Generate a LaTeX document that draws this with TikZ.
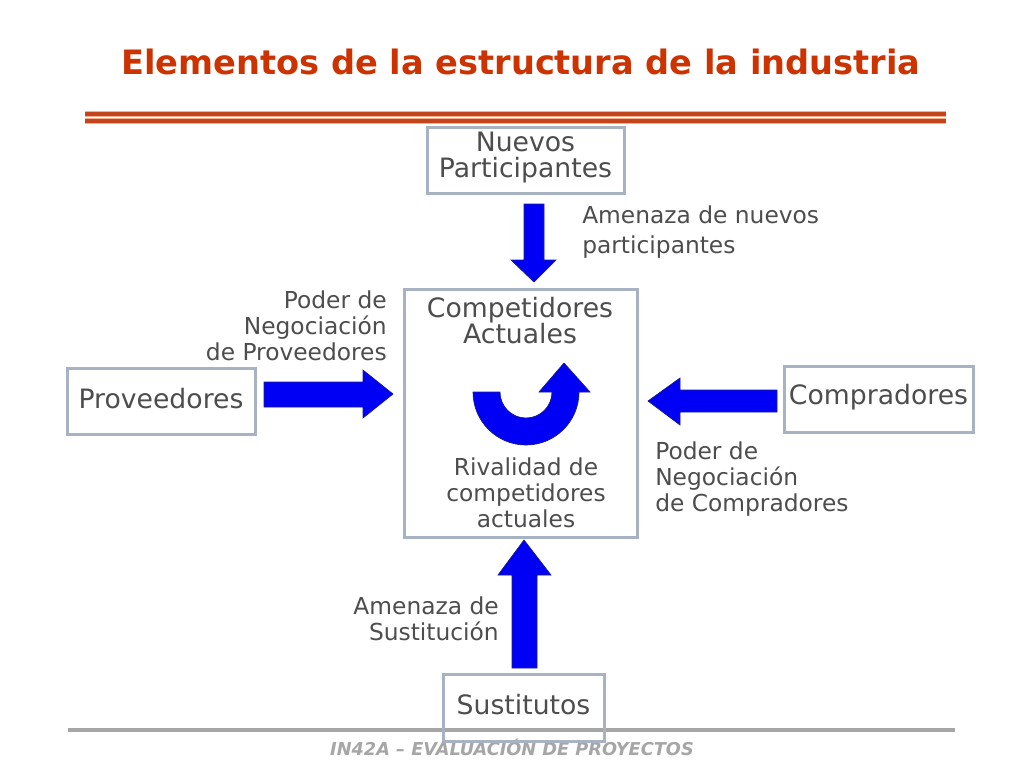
\documentclass[tikz,border=0pt]{standalone}
\usepackage{fontspec}
\setmainfont{DejaVu Sans}
\definecolor{titlered}{HTML}{CC3300}
\definecolor{rulered}{HTML}{C4441C}
\definecolor{ruleglow}{HTML}{F4B090}
\definecolor{boxgray}{HTML}{A7B3C2}
\definecolor{txtgray}{HTML}{4D4D4D}
\definecolor{footgray}{HTML}{A6A6A6}
\definecolor{arrblue}{HTML}{0000F5}
\definecolor{arredge}{HTML}{1A1A8C}
\begin{document}
\begin{tikzpicture}[x=0.75pt,y=-0.75pt,
  box/.style={draw=boxgray, line width=2.25pt, rectangle, inner sep=0pt},
  lbl/.style={text=txtgray, font=\fontsize{17.5}{19.5}\selectfont, inner sep=0pt},
  boxlbl/.style={lbl, font=\fontsize{20}{19.5}\selectfont},
  blockarrow/.style={fill=arrblue, draw=arredge, line width=0.5pt, line join=miter}]
\useasboundingbox (0,0) rectangle (1024,768);
\fill[white] (0,0) rectangle (1024,768);

% title
\node[text=titlered, font=\fontsize{25.2}{30}\selectfont\bfseries] (title) at (521,62) {Elementos de la estructura de la industria};
\coordinate (ra1) at (85,114); \coordinate (rb1) at (946,114);
\coordinate (ra2) at (85,121); \coordinate (rb2) at (946,121);
\draw[ruleglow, line width=3.8pt] (ra1) -- (rb1);
\draw[ruleglow, line width=3.8pt] (ra2) -- (rb2);
\draw[rulered, line width=2.4pt] (ra1) -- (rb1);
\draw[rulered, line width=2.4pt] (ra2) -- (rb2);

% footer
\coordinate (fa) at (68,730); \coordinate (fb) at (955,730);
\draw[footgray, line width=3pt] (fa) -- (fb);
\node[text=footgray, font=\fontsize{13.3}{16}\selectfont\bfseries\itshape] (foot) at (512,747) {IN42A – EVALUACIÓN DE PROYECTOS};

% boxes
\node[box, minimum width=147.75pt, minimum height=49.5pt] (nuevos) at (525.5,160) {};
\node[boxlbl, align=center] at (525.5,158) {Nuevos\\Participantes};
\node[box, minimum width=174.75pt, minimum height=186pt] (comp) at (520.5,413) {};
\node[box, minimum width=141pt, minimum height=49.5pt] (prov) at (161,401) {};
\node[boxlbl] at (161,399) {Proveedores};
\node[box, minimum width=141.75pt, minimum height=49.5pt] (compr) at (878.5,399) {};
\node[boxlbl] at (878.5,397) {Compradores};
\node[box, minimum width=120.75pt, minimum height=50.25pt] (sust) at (523.5,707.5) {};
\node[boxlbl] at (523.5,705) {Sustitutos};

% labels
\node[boxlbl, align=center] (comptxt) at (520,321) {Competidores\\Actuales};
\node[lbl, align=center] (rival) at (526,493) {Rivalidad de\\competidores\\actuales};
\node[lbl, align=left, anchor=west, font=\fontsize{17.5}{23}\selectfont] (amnu) at (582,232) {Amenaza de nuevos\\participantes};
\node[lbl, align=right, anchor=east] (podprov) at (387,326) {Poder de\\Negociación\\de Proveedores};
\node[lbl, align=left, anchor=west] (podcomp) at (655,479) {Poder de\\Negociación\\de Compradores};
\node[lbl, align=right, anchor=east] (amsus) at (499,619) {Amenaza de\\Sustitución};

% block arrows
\draw[blockarrow] (524,204) -- (544,204) -- (544,260) -- (556,260) -- (534,282) -- (511,260) -- (524,260) -- cycle;
\draw[blockarrow] (264,382) -- (363,382) -- (363,370) -- (393,394) -- (363,418) -- (363,407) -- (264,407) -- cycle;
\draw[blockarrow] (777,390) -- (680,390) -- (680,378) -- (648,401) -- (680,425) -- (680,412) -- (777,412) -- cycle;
\draw[blockarrow] (512,668) -- (512,575) -- (498,575) -- (524,540) -- (551,575) -- (537,575) -- (537,668) -- cycle;

% circular arrow
\draw[blockarrow] (473,392) arc[start angle=180, end angle=360, radius=39.75pt]
  -- (590,392) -- (564,363) -- (539,392) -- (552,392)
  arc[start angle=0, end angle=-180, radius=19.5pt] -- cycle;
\end{tikzpicture}
\end{document}
